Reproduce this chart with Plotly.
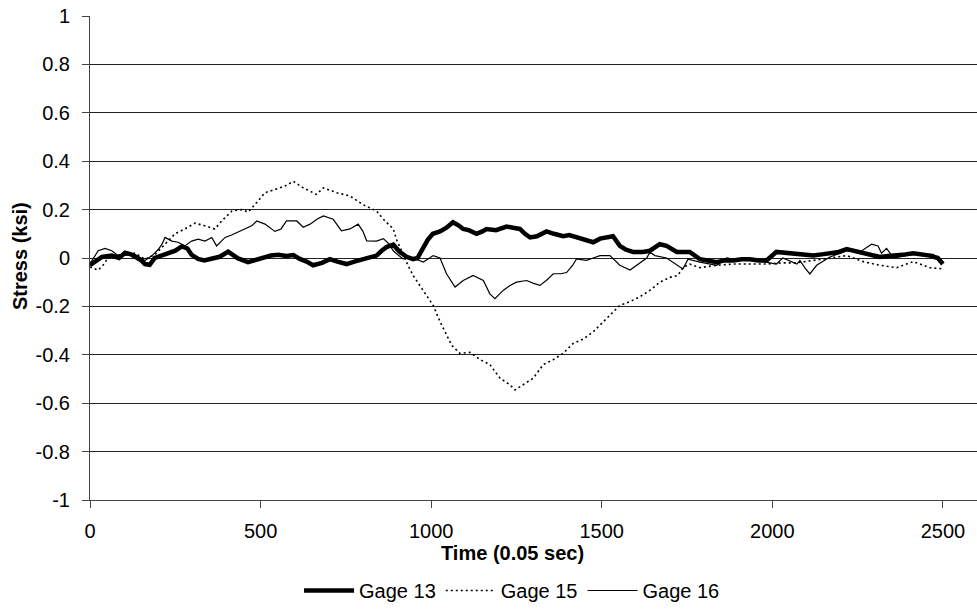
import plotly.graph_objects as go

# ---- data (time in 0.05 s steps, stress in ksi) ----
g13_t = [0, 6, 20, 35, 64, 85, 103, 120, 132, 150, 161, 175, 190, 210, 229, 250, 269, 285, 298, 317,
         335, 357, 380, 405, 420, 434, 463, 480, 503, 530, 552, 575, 596, 615, 635, 654, 680, 703, 725, 752,
         775, 801, 820, 840, 855, 869, 889, 908, 928, 947, 960, 975, 990, 1005, 1026, 1045, 1064, 1080, 1094, 1110,
         1133, 1150, 1162, 1190, 1221, 1240, 1260, 1275, 1290, 1310, 1338, 1360, 1387, 1405, 1426, 1450, 1475, 1495, 1514, 1533,
         1553, 1570, 1592, 1620, 1641, 1670, 1690, 1705, 1720, 1758, 1788, 1810, 1837, 1860, 1885, 1910, 1934, 1960, 1983, 2012,
         2040, 2060, 2090, 2120, 2145, 2169, 2195, 2218, 2240, 2267, 2290, 2315, 2340, 2365, 2390, 2413, 2440, 2462, 2485, 2500]
g13_v = [-0.03, -0.025, -0.01, 0.005, 0.01, 0.0, 0.022, 0.015, 0.005, -0.01, -0.025, -0.028, 0.0, 0.01, 0.022, 0.03, 0.048, 0.04, 0.013, -0.004,
         -0.01, -0.004, 0.005, 0.026, 0.01, -0.002, -0.017, -0.01, 0.003, 0.01, 0.013, 0.008, 0.012, -0.004, -0.015, -0.03, -0.02, -0.005, -0.015, -0.025,
         -0.015, -0.005, 0.0, 0.01, 0.03, 0.045, 0.055, 0.025, 0.005, -0.005, 0.0, 0.04, 0.075, 0.1, 0.11, 0.125, 0.148, 0.135, 0.12, 0.115,
         0.1, 0.11, 0.12, 0.115, 0.13, 0.125, 0.12, 0.1, 0.085, 0.09, 0.11, 0.1, 0.09, 0.095, 0.085, 0.075, 0.065, 0.08, 0.085, 0.09,
         0.05, 0.035, 0.025, 0.025, 0.03, 0.057, 0.05, 0.035, 0.025, 0.025, -0.005, -0.01, -0.017, -0.01, -0.01, -0.005, -0.005, -0.01, -0.01, 0.025,
         0.02, 0.02, 0.012, 0.01, 0.015, 0.02, 0.025, 0.037, 0.03, 0.02, 0.01, 0.004, 0.008, 0.01, 0.015, 0.02, 0.015, 0.01, 0.0, -0.025]

g15_t = [0, 24, 38, 53, 82, 110, 132, 161, 190, 220, 249, 278, 308, 337, 366, 386, 416, 445, 464, 484,
         513, 542, 571, 596, 625, 664, 684, 723, 762, 801, 840, 860, 889, 898, 918, 932, 947, 967, 986, 1006,
         1026, 1040, 1060, 1084, 1114, 1143, 1172, 1202, 1231, 1246, 1270, 1299, 1329, 1358, 1387, 1416, 1446, 1475, 1505, 1534,
         1553, 1583, 1612, 1641, 1670, 1700, 1723, 1738, 1758, 1788, 1837, 1885, 1934, 1983, 2031, 2072, 2120, 2169, 2218, 2267,
         2315, 2365, 2413, 2462, 2500]
g15_v = [-0.037, -0.05, -0.03, 0.0, 0.013, 0.015, 0.02, -0.005, 0.013, 0.057, 0.1, 0.12, 0.144, 0.133, 0.12, 0.153, 0.194, 0.2, 0.19, 0.222,
         0.27, 0.283, 0.297, 0.317, 0.29, 0.263, 0.29, 0.27, 0.256, 0.22, 0.194, 0.16, 0.12, 0.078, 0.01, -0.03, -0.072, -0.113, -0.155, -0.196,
         -0.263, -0.305, -0.36, -0.394, -0.39, -0.42, -0.44, -0.497, -0.524, -0.545, -0.524, -0.497, -0.44, -0.42, -0.394, -0.353, -0.335, -0.305, -0.263, -0.222,
         -0.196, -0.18, -0.16, -0.134, -0.1, -0.08, -0.072, -0.04, -0.025, -0.04, -0.03, -0.025, -0.025, -0.025, -0.02, -0.02, -0.01, 0.0, 0.01, -0.015,
         -0.03, -0.04, -0.015, -0.04, -0.045]

g16_t = [0, 6, 24, 44, 64, 82, 110, 132, 161, 182, 200, 211, 220, 240, 258, 278, 298, 317, 337, 357,
         371, 396, 415, 434, 455, 474, 489, 513, 542, 560, 576, 606, 625, 645, 665, 684, 713, 737, 762, 786,
         800, 811, 840, 860, 875, 889, 905, 918, 947, 977, 1006, 1026, 1045, 1070, 1094, 1123, 1153, 1172, 1187, 1211,
         1230, 1250, 1280, 1300, 1319, 1340, 1358, 1380, 1397, 1415, 1426, 1455, 1475, 1495, 1524, 1553, 1583, 1612, 1632, 1641,
         1656, 1690, 1720, 1738, 1753, 1788, 1837, 1866, 1905, 1954, 2012, 2031, 2072, 2081, 2095, 2110, 2130, 2169, 2218, 2257,
         2291, 2310, 2320, 2335, 2355, 2413, 2472, 2482, 2500]
g16_v = [-0.02, -0.01, 0.03, 0.04, 0.03, 0.01, 0.012, 0.015, -0.01, 0.01, 0.035, 0.057, 0.085, 0.07, 0.065, 0.05, 0.07, 0.078, 0.07, 0.085,
         0.05, 0.085, 0.095, 0.107, 0.12, 0.133, 0.153, 0.14, 0.11, 0.12, 0.153, 0.153, 0.127, 0.14, 0.16, 0.174, 0.16, 0.112, 0.12, 0.14,
         0.11, 0.071, 0.07, 0.08, 0.06, 0.03, 0.01, -0.004, 0.0, -0.017, 0.01, 0.0, -0.065, -0.12, -0.093, -0.072, -0.093, -0.148, -0.168, -0.134,
         -0.115, -0.1, -0.093, -0.105, -0.113, -0.09, -0.065, -0.065, -0.06, -0.03, -0.004, -0.01, 0.0, 0.01, 0.01, -0.03, -0.05, -0.02, 0.0, 0.024,
         0.01, 0.0, -0.03, -0.045, -0.005, -0.017, -0.03, 0.0, -0.01, -0.01, -0.025, 0.0, -0.025, -0.01, -0.04, -0.066, -0.03, 0.004, 0.03, 0.025,
         0.057, 0.05, 0.02, 0.04, 0.0, 0.015, 0.015, 0.0, -0.015]

x_ticks = [0, 500, 1000, 1500, 2000, 2500]
y_ticks = [-1, -0.8, -0.6, -0.4, -0.2, 0, 0.2, 0.4, 0.6, 0.8, 1]
y_tick_text = ["-1", "-0.8", "-0.6", "-0.4", "-0.2", "0", "0.2", "0.4", "0.6", "0.8", "1"]

FONT = "Liberation Sans, Arial, sans-serif"

fig = go.Figure()
fig.add_trace(go.Scatter(x=g13_t, y=g13_v, name="Gage 13", mode="lines",
                         line=dict(color="black", width=4.5)))
fig.add_trace(go.Scatter(x=g15_t, y=g15_v, name="Gage 15", mode="lines",
                         line=dict(color="black", width=1.6, dash="2px,3px")))
fig.add_trace(go.Scatter(x=g16_t, y=g16_v, name="Gage 16", mode="lines",
                         line=dict(color="black", width=1.2)))

fig.update_layout(
    width=977, height=610,
    margin=dict(l=90, r=0, t=16, b=108),
    paper_bgcolor="white", plot_bgcolor="white",
    font=dict(family=FONT, size=20, color="black"),
    showlegend=True,
    legend=dict(orientation="h", x=0.4758, xanchor="center", y=-0.187, yanchor="middle",
                font=dict(family=FONT, size=20, color="black"), itemwidth=50,
                bgcolor="rgba(0,0,0,0)", tracegroupgap=0),
    xaxis=dict(range=[0, 2600], tickvals=x_ticks, ticktext=[str(v) for v in x_ticks],
               showgrid=False, zeroline=False, showline=True, linecolor="#444", linewidth=1,
               ticks="outside", ticklen=7, tickcolor="#444", ticklabelstandoff=6,
               tickfont=dict(family=FONT, size=20, color="black")),
    yaxis=dict(range=[-1, 1], tickvals=y_ticks, ticktext=y_tick_text,
               showgrid=True, gridcolor="#222", gridwidth=1, zeroline=False,
               showline=True, linecolor="#444", linewidth=1,
               ticks="outside", ticklen=7, tickcolor="#444", ticklabelstandoff=8,
               tickfont=dict(family=FONT, size=20, color="black")),
    annotations=[
        dict(text="<b>Time (0.05 sec)</b>", xref="paper", yref="paper", x=0.4758, y=-0.109,
             xanchor="center", yanchor="middle", showarrow=False,
             font=dict(family=FONT, size=20, color="black")),
        dict(text="<b>Stress (ksi)</b>", xref="paper", yref="paper", x=-0.0789, y=0.504,
             xanchor="center", yanchor="middle", showarrow=False, textangle=-90,
             font=dict(family=FONT, size=20, color="black")),
    ],
)

fig.write_html("out.html")
